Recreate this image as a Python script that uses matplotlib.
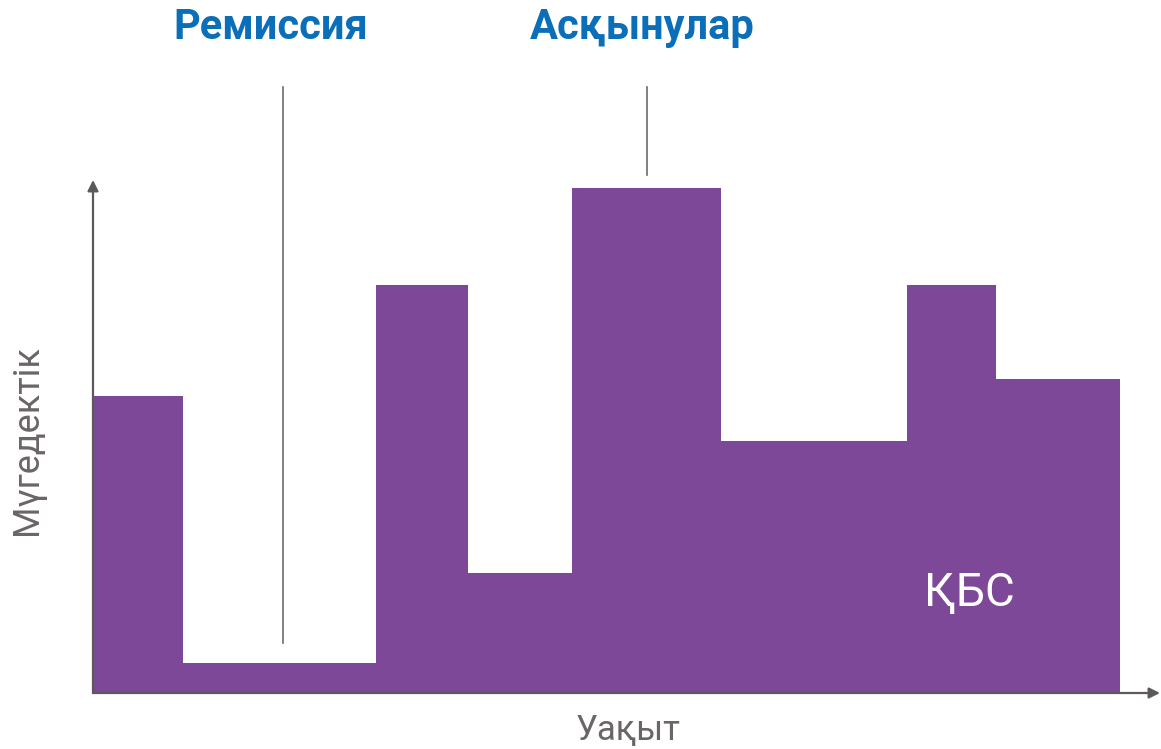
import matplotlib.pyplot as plt

# step boundaries along the time axis and disability level of each step
edges = [0, 9.0, 28.3, 37.5, 47.9, 62.8, 81.4, 90.3, 102.7]
levels = [5.94, 0.6, 8.16, 2.4, 10.1, 5.04, 8.16, 6.28]

# marker lines: (x, y_bottom, y_top) and their labels with label x
remission = (19.0, 1.0, 12.12)
relapse = (55.4, 10.36, 12.12)
labels = ['Ремиссия', 'Асқынулар']
label_x = [17.8, 54.9]

purple = '#7D4897'
blue = '#0B6EB8'
grey = '#5E5959'

plt.rcParams['font.family'] = ['Roboto', 'DejaVu Sans']

fig = plt.figure(figsize=(11.61, 7.49), dpi=100)
ax = fig.add_axes([93 / 1161, 56 / 749, 1067 / 1161, 513 / 749])
ax.set_xlim(0, 106.7)
ax.set_ylim(0, 10.26)
ax.axis('off')

ax.fill_between(edges, levels + [levels[-1]], step='post', color=purple, lw=0)

# axes drawn as arrows
arrow = dict(arrowstyle='-|>', color=grey, lw=1.6, mutation_scale=16, shrinkA=0, shrinkB=0)
ax.annotate('', xy=(0, 1.0), xytext=(0, 0), xycoords='axes fraction', arrowprops=arrow)
ax.annotate('', xy=(1.0, 0), xytext=(0, 0), xycoords='axes fraction', arrowprops=arrow)

for (x, y0, y1), lab, lx in zip([remission, relapse], labels, label_x):
    ax.plot([x, x], [y0, y1], color='#6E6A6A', lw=1.2, clip_on=False)
    ax.text(lx, 13.3, lab, ha='center', va='center', fontsize=30, fontweight='bold',
            color=blue, clip_on=False)

ax.text(87.6, 2.0, 'ҚБС', ha='center', va='center', fontsize=33, color='white')

fig.text(27 / 1161, 1 - 440 / 749, 'Мүгедектік', rotation=90, ha='center', va='center',
         fontsize=26, color='#6A6666')
fig.text(628 / 1161, 1 - 730 / 749, 'Уақыт', ha='center', va='center',
         fontsize=25, color='#6A6666')

fig.savefig('out.png', dpi=100)
